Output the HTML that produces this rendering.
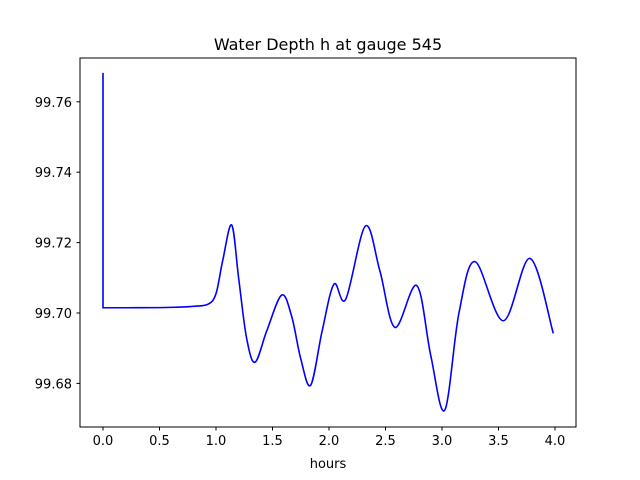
<!DOCTYPE html>
<html><head><meta charset="utf-8"><style>
body{margin:0;background:#fff;}
svg{display:block;font-family:"DejaVu Sans","Liberation Sans",sans-serif;}
</style></head><body>
<svg width="640" height="480">
<rect x="0" y="0" width="640" height="480" fill="#fff"/>
<g id="plot"></g>
<rect x="80" y="58" width="496" height="369" fill="none" stroke="#000" stroke-width="1"/>
<g id="xt"></g><g id="yt"></g>
<text x="328" y="50" font-size="16" text-anchor="middle">Water Depth h at gauge 545</text>
<text x="328" y="468" font-size="13" text-anchor="middle">hours</text>
</svg>
<script>
const hours=[0,0,0.3,0.6,0.8,0.93,1.0,1.06,1.139,1.2,1.27,1.345,1.45,1.581,1.67,1.75,1.838,1.94,2.044,2.148,2.322,2.45,2.584,2.776,2.9,3.024,3.15,3.292,3.543,3.779,3.985];
const depth=[99.7682,99.7015,99.7015,99.7016,99.7019,99.7025,99.7055,99.7150,99.7250,99.7100,99.6930,99.6860,99.6950,99.7051,99.6990,99.6870,99.6795,99.6950,99.7082,99.7039,99.7247,99.7120,99.6959,99.7078,99.6880,99.6724,99.7000,99.7146,99.6978,99.7155,99.6942];
const xTicks=[0,0.5,1,1.5,2,2.5,3,3.5,4];
const yTicks=[99.68,99.70,99.72,99.74,99.76];
const X=h=>103+113*h, Y=v=>313-(v-99.70)*3520;
const NS='http://www.w3.org/2000/svg';
const P=hours.map((h,i)=>[X(h),Y(depth[i])]);
let d='M'+P[0][0]+','+P[0][1]+'L'+P[1][0]+','+P[1][1];
for(let i=1;i<P.length-1;i++){
 const p0=P[Math.max(i-1,1)],p1=P[i],p2=P[i+1],p3=P[Math.min(i+2,P.length-1)];
 d+='C'+(p1[0]+(p2[0]-p0[0])/6)+','+(p1[1]+(p2[1]-p0[1])/6)+' '+(p2[0]-(p3[0]-p1[0])/6)+','+(p2[1]-(p3[1]-p1[1])/6)+' '+p2[0]+','+p2[1];
}
const path=document.createElementNS(NS,'path');
path.setAttribute('d',d);path.setAttribute('fill','none');path.setAttribute('stroke','#0000ff');path.setAttribute('stroke-width','1.6');


document.getElementById('plot').appendChild(path);
const xt=document.getElementById('xt');
xTicks.forEach(t=>{
 const l=document.createElementNS(NS,'line');
 l.setAttribute('x1',X(t));l.setAttribute('x2',X(t));l.setAttribute('y1',427);l.setAttribute('y2',430.5);l.setAttribute('stroke','#000');
 
 
 xt.appendChild(l);
 const s=document.createElementNS(NS,'text');
 s.setAttribute('x',X(t));s.setAttribute('y',445);s.setAttribute('font-size','13');s.setAttribute('text-anchor','middle');
 s.textContent=t.toFixed(1);
 
 
 xt.appendChild(s);
});
const yt=document.getElementById('yt');
yTicks.forEach(t=>{
 const l=document.createElementNS(NS,'line');
 l.setAttribute('x1',76.5);l.setAttribute('x2',80);l.setAttribute('y1',Y(t));l.setAttribute('y2',Y(t));l.setAttribute('stroke','#000');
 
 
 yt.appendChild(l);
 const s=document.createElementNS(NS,'text');
 s.setAttribute('x',72);s.setAttribute('y',Y(t)+5);s.setAttribute('font-size','13');s.setAttribute('text-anchor','end');
 s.textContent=t.toFixed(2);
 
 
 yt.appendChild(s);
});
</script>
</body></html>
